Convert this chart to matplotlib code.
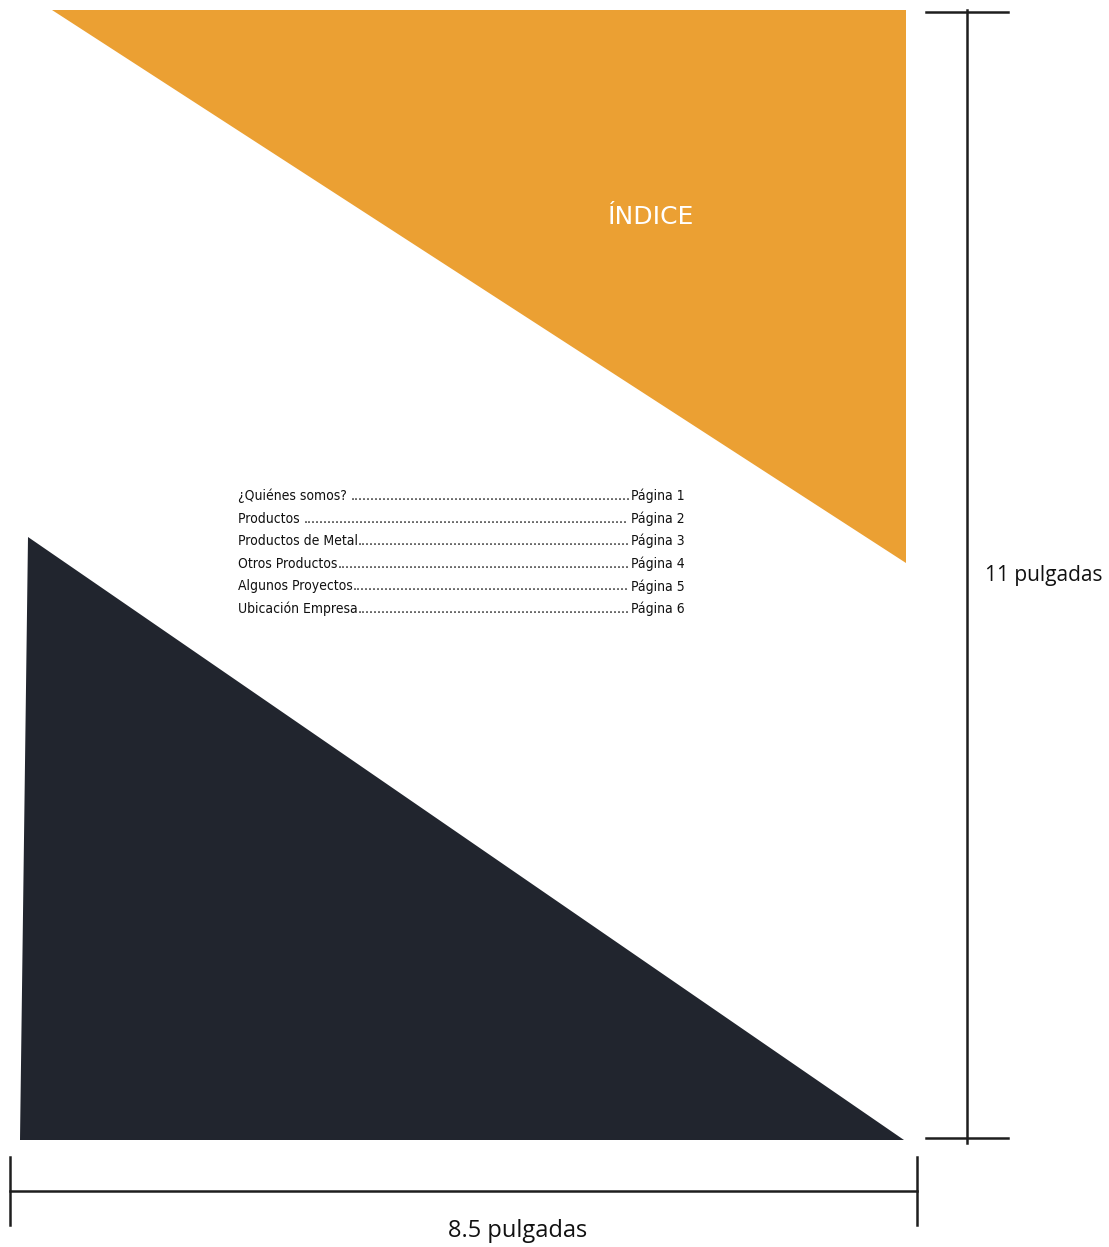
import numpy as np
import matplotlib.pyplot as plt
from matplotlib.patches import Polygon

# page content
title = "ÍNDICE"
toc_labels = ["¿Quiénes somos? ", "Productos ", "Productos de Metal", "Otros Productos",
              "Algunos Proyectos", "Ubicación Empresa"]
toc_pages = ["Página 1", "Página 2", "Página 3", "Página 4", "Página 5", "Página 6"]
height_label = "11 pulgadas"
width_label = "8.5 pulgadas"

orange = "#EBA033"
navy = "#21252E"
ink = "#1E1E1E"

W, H = 1109, 1247
fig = plt.figure(figsize=(W / 100, H / 100), dpi=100)
ax = fig.add_axes([0, 0, 1, 1])
ax.set_xlim(0, W)
ax.set_ylim(H, 0)
ax.axis('off')

# triangles
ax.add_patch(Polygon([(52, 10), (906, 10), (906, 563)], closed=True, fc=orange, ec='none'))
ax.add_patch(Polygon([(28, 537), (20, 1140), (904, 1140)], closed=True, fc=navy, ec='none'))

ax.text(651, 217, title, color='white', fontsize=18, ha='center', va='center',
        family=['DejaVu Sans'])

# table of contents with dot leaders
toc_font = ['Liberation Sans Narrow', 'DejaVu Sans']
fs = 10
x_left, x_right = 238, 685
y0, dy = 496, 22.6
fig.canvas.draw()
renderer = fig.canvas.get_renderer()
for i, (lab, pg) in enumerate(zip(toc_labels, toc_pages)):
    y = y0 + i * dy
    kw = dict(fontsize=fs, family=toc_font, fontstretch='condensed', color='#111111', va='center')
    t1 = ax.text(x_left, y, lab, ha='left', **kw)
    t2 = ax.text(x_right, y, pg, ha='right', **kw)
    e1 = t1.get_window_extent(renderer)
    e2 = t2.get_window_extent(renderer)
    probe = ax.text(0, 0, "." * 20, **kw)
    dot_w = probe.get_window_extent(renderer).width / 20
    probe.remove()
    n = int((e2.x0 - e1.x1) / dot_w)
    ax.text(x_left + e1.width, y, "." * n, ha='left', **kw)

# dimension lines
lw = 1.8
ax.plot([967, 967], [10, 1143], color=ink, lw=lw)
ax.plot([926, 1008], [12, 12], color=ink, lw=lw)
ax.plot([926, 1008], [1138, 1138], color=ink, lw=lw)
ax.text(985, 575, height_label, fontsize=15, ha='left', va='center', color='#111111',
        family=['Open Sans', 'DejaVu Sans'])

ax.plot([10, 917], [1191, 1191], color=ink, lw=lw)
ax.plot([10, 10], [1157, 1225], color=ink, lw=lw)
ax.plot([917, 917], [1157, 1225], color=ink, lw=lw)
ax.text(518, 1231, width_label, fontsize=17, ha='center', va='center', color='#111111',
        family=['Open Sans', 'DejaVu Sans'])

fig.savefig('out.png', dpi=100)
